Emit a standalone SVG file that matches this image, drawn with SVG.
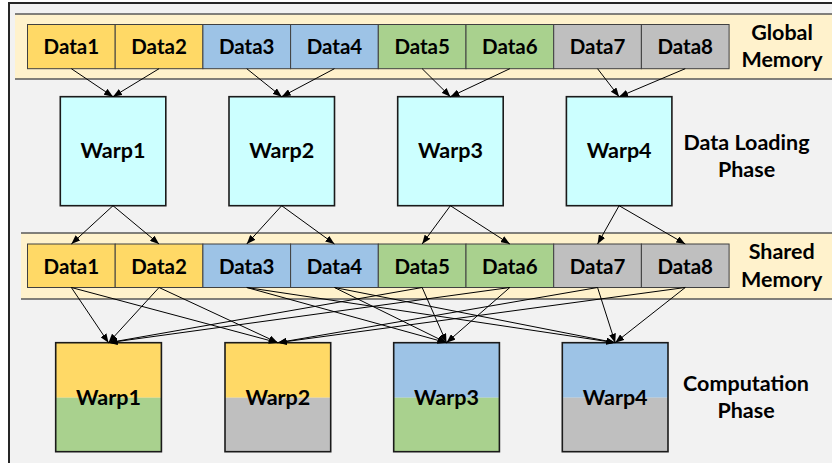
<svg xmlns="http://www.w3.org/2000/svg" width="832" height="463" viewBox="0 0 832 463">
  <style>
    .frame { fill: #F2F2F2; stroke: #262626; stroke-width: 2; }
    .band { fill: #FFF2CC; }
    .bandline { stroke: #595959; stroke-width: 1.5; }
    .cell { stroke: #404040; stroke-width: 1; }
    .y { fill: #FFD966; }
    .b { fill: #9DC3E6; }
    .g { fill: #A9D18E; }
    .k { fill: #BFBFBF; }
    .warp { fill: #CCFFFF; stroke: #1A1A1A; stroke-width: 1.6; }
    .outline { fill: none; stroke: #1A1A1A; stroke-width: 1.6; }
    text { font-family: "Lato", "Liberation Sans", sans-serif; font-weight: bold; fill: #000; text-anchor: middle; }
    .dt { font-size: 20.5px; }
    .wt { font-size: 21.5px; }
    .lbl { font-size: 21.5px; }
    .conn line { stroke: #000; stroke-width: 1; marker-end: url(#arrow); }
  </style>
  <defs>
    <marker id="arrow" markerUnits="userSpaceOnUse" markerWidth="9" markerHeight="7" refX="9" refY="3.5" orient="auto">
      <path d="M0,0 L9,3.5 L0,7 Z" fill="#000"/>
    </marker>
  </defs>

  <!-- outer frame -->
  <rect class="frame" x="9" y="3" width="840" height="480"/>

  <!-- global memory band -->
  <g id="global-memory">
    <rect class="band" x="15" y="14" width="830" height="65"/>
    <line class="bandline" x1="15" y1="14" x2="832" y2="14"/>
    <line class="bandline" x1="15" y1="79" x2="832" y2="79"/>
    <g id="g-data1"><rect class="cell y" x="27.5" y="24.5" width="87.7" height="44.2"/><text class="dt" x="71.35" y="54.3">Data1</text></g>
    <g id="g-data2"><rect class="cell y" x="115.2" y="24.5" width="87.7" height="44.2"/><text class="dt" x="159.05" y="54.3">Data2</text></g>
    <g id="g-data3"><rect class="cell b" x="202.9" y="24.5" width="87.7" height="44.2"/><text class="dt" x="246.75" y="54.3">Data3</text></g>
    <g id="g-data4"><rect class="cell b" x="290.6" y="24.5" width="87.7" height="44.2"/><text class="dt" x="334.45" y="54.3">Data4</text></g>
    <g id="g-data5"><rect class="cell g" x="378.3" y="24.5" width="87.7" height="44.2"/><text class="dt" x="422.15" y="54.3">Data5</text></g>
    <g id="g-data6"><rect class="cell g" x="466" y="24.5" width="87.7" height="44.2"/><text class="dt" x="509.85" y="54.3">Data6</text></g>
    <g id="g-data7"><rect class="cell k" x="553.7" y="24.5" width="87.7" height="44.2"/><text class="dt" x="597.55" y="54.3">Data7</text></g>
    <g id="g-data8"><rect class="cell k" x="641.4" y="24.5" width="87.7" height="44.2"/><text class="dt" x="685.25" y="54.3">Data8</text></g>
    <text class="lbl" x="782" y="40">Global</text>
    <text class="lbl" x="782" y="66.7">Memory</text>
  </g>

  <!-- data loading warps -->
  <g id="load-warp1"><rect class="warp" x="60.3" y="96.7" width="105.5" height="109"/><text class="wt" x="113.05" y="158.3">Warp1</text></g>
  <g id="load-warp2"><rect class="warp" x="229" y="96.7" width="105.5" height="109"/><text class="wt" x="281.75" y="158.3">Warp2</text></g>
  <g id="load-warp3"><rect class="warp" x="397.7" y="96.7" width="105.5" height="109"/><text class="wt" x="450.45" y="158.3">Warp3</text></g>
  <g id="load-warp4"><rect class="warp" x="566.4" y="96.7" width="105.5" height="109"/><text class="wt" x="619.15" y="158.3">Warp4</text></g>
  <g id="label-loading">
    <text class="lbl" x="746.5" y="150">Data Loading</text>
    <text class="lbl" x="746.5" y="176.7">Phase</text>
  </g>

  <!-- shared memory band -->
  <g id="shared-memory">
    <rect class="band" x="21" y="233" width="830" height="66"/>
    <line class="bandline" x1="21" y1="233" x2="832" y2="233"/>
    <line class="bandline" x1="21" y1="299" x2="832" y2="299"/>
    <g id="s-data1"><rect class="cell y" x="27.5" y="244" width="87.7" height="43.5"/><text class="dt" x="71.35" y="273.7">Data1</text></g>
    <g id="s-data2"><rect class="cell y" x="115.2" y="244" width="87.7" height="43.5"/><text class="dt" x="159.05" y="273.7">Data2</text></g>
    <g id="s-data3"><rect class="cell b" x="202.9" y="244" width="87.7" height="43.5"/><text class="dt" x="246.75" y="273.7">Data3</text></g>
    <g id="s-data4"><rect class="cell b" x="290.6" y="244" width="87.7" height="43.5"/><text class="dt" x="334.45" y="273.7">Data4</text></g>
    <g id="s-data5"><rect class="cell g" x="378.3" y="244" width="87.7" height="43.5"/><text class="dt" x="422.15" y="273.7">Data5</text></g>
    <g id="s-data6"><rect class="cell g" x="466" y="244" width="87.7" height="43.5"/><text class="dt" x="509.85" y="273.7">Data6</text></g>
    <g id="s-data7"><rect class="cell k" x="553.7" y="244" width="87.7" height="43.5"/><text class="dt" x="597.55" y="273.7">Data7</text></g>
    <g id="s-data8"><rect class="cell k" x="641.4" y="244" width="87.7" height="43.5"/><text class="dt" x="685.25" y="273.7">Data8</text></g>
    <text class="lbl" x="781.7" y="259.3">Shared</text>
    <text class="lbl" x="781.7" y="286.7">Memory</text>
  </g>

  <!-- computation warps: top half and bottom half coloured by the data they use -->
  <g id="comp-warp1">
    <rect class="y" x="55.7" y="342.7" width="105.7" height="55"/>
    <rect class="g" x="55.7" y="397.7" width="105.7" height="54"/>
    <rect class="outline" x="55.7" y="342.7" width="105.7" height="109"/>
    <text class="wt" x="108.55" y="405">Warp1</text>
  </g>
  <g id="comp-warp2">
    <rect class="y" x="225" y="342.7" width="105.7" height="55"/>
    <rect class="k" x="225" y="397.7" width="105.7" height="54"/>
    <rect class="outline" x="225" y="342.7" width="105.7" height="109"/>
    <text class="wt" x="277.85" y="405">Warp2</text>
  </g>
  <g id="comp-warp3">
    <rect class="b" x="393.7" y="342.7" width="105.7" height="55"/>
    <rect class="g" x="393.7" y="397.7" width="105.7" height="54"/>
    <rect class="outline" x="393.7" y="342.7" width="105.7" height="109"/>
    <text class="wt" x="446.55" y="405">Warp3</text>
  </g>
  <g id="comp-warp4">
    <rect class="b" x="562.3" y="342.7" width="105.7" height="55"/>
    <rect class="k" x="562.3" y="397.7" width="105.7" height="54"/>
    <rect class="outline" x="562.3" y="342.7" width="105.7" height="109"/>
    <text class="wt" x="615.15" y="405">Warp4</text>
  </g>
  <g id="label-computation">
    <text class="lbl" x="746" y="391">Computation</text>
    <text class="lbl" x="746" y="418.3">Phase</text>
  </g>

  <!-- connectors -->
  <g class="conn" id="connectors">
    <!-- global memory to loading warps -->
    <line x1="71.35" y1="68.7" x2="113" y2="96.7"/>
    <line x1="159.05" y1="68.7" x2="113" y2="96.7"/>
    <line x1="246.75" y1="68.7" x2="281.7" y2="96.7"/>
    <line x1="334.45" y1="68.7" x2="281.7" y2="96.7"/>
    <line x1="422.15" y1="68.7" x2="450.4" y2="96.7"/>
    <line x1="509.85" y1="68.7" x2="450.4" y2="96.7"/>
    <line x1="597.55" y1="68.7" x2="619.1" y2="96.7"/>
    <line x1="685.25" y1="68.7" x2="619.1" y2="96.7"/>
    <!-- loading warps to shared memory -->
    <line x1="113" y1="205.7" x2="71.35" y2="244"/>
    <line x1="113" y1="205.7" x2="159.05" y2="244"/>
    <line x1="281.7" y1="205.7" x2="246.75" y2="244"/>
    <line x1="281.7" y1="205.7" x2="334.45" y2="244"/>
    <line x1="450.4" y1="205.7" x2="422.15" y2="244"/>
    <line x1="450.4" y1="205.7" x2="509.85" y2="244"/>
    <line x1="619.1" y1="205.7" x2="597.55" y2="244"/>
    <line x1="619.1" y1="205.7" x2="685.25" y2="244"/>
    <!-- shared memory to computation warps -->
    <line x1="71.35" y1="287.5" x2="108.5" y2="342.7"/>
    <line x1="71.35" y1="287.5" x2="277.8" y2="342.7"/>
    <line x1="159.05" y1="287.5" x2="108.5" y2="342.7"/>
    <line x1="159.05" y1="287.5" x2="277.8" y2="342.7"/>
    <line x1="246.75" y1="287.5" x2="446.5" y2="342.7"/>
    <line x1="246.75" y1="287.5" x2="615.2" y2="342.7"/>
    <line x1="334.45" y1="287.5" x2="446.5" y2="342.7"/>
    <line x1="334.45" y1="287.5" x2="615.2" y2="342.7"/>
    <line x1="422.15" y1="287.5" x2="108.5" y2="342.7"/>
    <line x1="422.15" y1="287.5" x2="446.5" y2="342.7"/>
    <line x1="509.85" y1="287.5" x2="108.5" y2="342.7"/>
    <line x1="509.85" y1="287.5" x2="446.5" y2="342.7"/>
    <line x1="597.55" y1="287.5" x2="277.8" y2="342.7"/>
    <line x1="597.55" y1="287.5" x2="615.2" y2="342.7"/>
    <line x1="685.25" y1="287.5" x2="277.8" y2="342.7"/>
    <line x1="685.25" y1="287.5" x2="615.2" y2="342.7"/>
  </g>
</svg>
